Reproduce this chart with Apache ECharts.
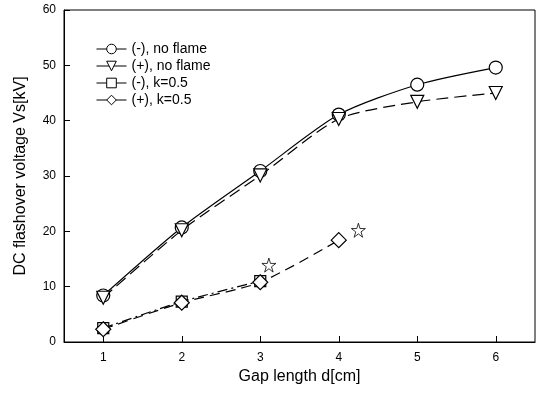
<!DOCTYPE html>
<html><head><meta charset="utf-8">
<script src="https://cdn.jsdelivr.net/npm/echarts@6/dist/echarts.min.js"></script>
<style>html,body{margin:0;padding:0;background:#fff}#c{width:539px;height:394px}</style>
</head><body><div id="c"></div>
<script>
const gap = [1, 2, 3, 4, 5, 6];
const negNoFlame = [8.4, 20.7, 30.9, 41.1, 46.5, 49.6];
const posNoFlame = [8.0, 20.2, 30.1, 40.3, 43.4, 45.0];
const gapK = [1, 2, 3];
const negK = [2.5, 7.3, 11.0];
const gapK4 = [1, 2, 3, 4];
const posK = [2.3, 7.1, 10.8, 18.4];
const starX = [3.11, 4.25];
const starY = [13.9, 20.2];
const xTicks = [1, 2, 3, 4, 5, 6];
const yTicks = [0, 10, 20, 30, 40, 50, 60];
const names = ['(-), no flame', '(+), no flame', '(-), k=0.5', '(+), k=0.5'];

const pair = (xs, ys) => xs.map((x, i) => [x, ys[i]]);
const starPath = 'path://M50,0 L61,35 L98,35 L68,57 L79,92 L50,70 L21,92 L32,57 L2,35 L39,35 Z';
const font = 'Liberation Sans, Arial, sans-serif';
const mk = (name, data, symbol, size, dash, rot) => ({
  name, type: 'line', data, symbol, symbolSize: size, symbolRotate: rot || 0,
  smooth: 0.25, showAllSymbol: true, z: 3,
  lineStyle: {color: '#000', width: 1.2, type: dash},
  itemStyle: {color: '#fff', borderColor: '#000', borderWidth: 1.2}
});
const chart = echarts.init(document.getElementById('c'));
chart.setOption({
  animation: false,
  backgroundColor: '#fff',
  grid: {left: 64, right: 4, top: 10, bottom: 52},
  legend: {
    orient: 'vertical', left: 91, top: 37, itemWidth: 30, itemHeight: 12, itemGap: 3,
    textStyle: {fontFamily: font, fontSize: 14, color: '#000'},
    itemStyle: {borderWidth: 1},
    lineStyle: {width: 1, type: 'solid'},
    data: names
  },
  xAxis: {
    type: 'value', min: 0.5, max: 6.5, interval: 0.5,
    name: 'Gap length d[cm]', nameLocation: 'middle', nameGap: 27,
    nameTextStyle: {fontFamily: font, fontSize: 16, color: '#000'},
    axisLine: {lineStyle: {color: '#000', width: 1}},
    axisTick: {inside: true, length: 6, lineStyle: {color: '#000'}, interval: 0,
      customValues: xTicks},
    axisLabel: {fontFamily: font, fontSize: 12, color: '#000', margin: 10,
      customValues: xTicks, formatter: v => String(v)},
    splitLine: {show: false}
  },
  yAxis: {
    type: 'value', min: 0, max: 60, interval: 10,
    name: 'DC flashover voltage Vs[kV]', nameLocation: 'middle', nameGap: 35,
    nameTextStyle: {fontFamily: font, fontSize: 16, color: '#000'},
    axisLine: {show: true, lineStyle: {color: '#000', width: 1}},
    axisTick: {show: true, inside: true, length: 6, lineStyle: {color: '#000'}},
    axisLabel: {fontFamily: font, fontSize: 12, color: '#000', margin: 8},
    splitLine: {show: false}
  },
  graphic: [
    {type: 'rect', shape: {x: 64, y: 10, width: 471, height: 332}, style: {fill: 'none', stroke: '#000', lineWidth: 1}, silent: true, z: 0}
  ],
  series: [
    mk(names[0], pair(gap, negNoFlame), 'circle', 13, 'solid'),
    mk(names[1], pair(gap, posNoFlame), 'triangle', 13, [12, 6], 180),
    mk(names[2], pair(gapK, negK), 'rect', 11, [10, 4, 2, 4]),
    mk(names[3], pair(gapK4, posK), 'diamond', 15, [10, 6]),
    {type: 'scatter', data: pair(starX, starY), symbol: starPath, symbolSize: 14,
      itemStyle: {color: '#fff', borderColor: '#000', borderWidth: 1}, z: 4}
  ]
});
</script></body></html>
